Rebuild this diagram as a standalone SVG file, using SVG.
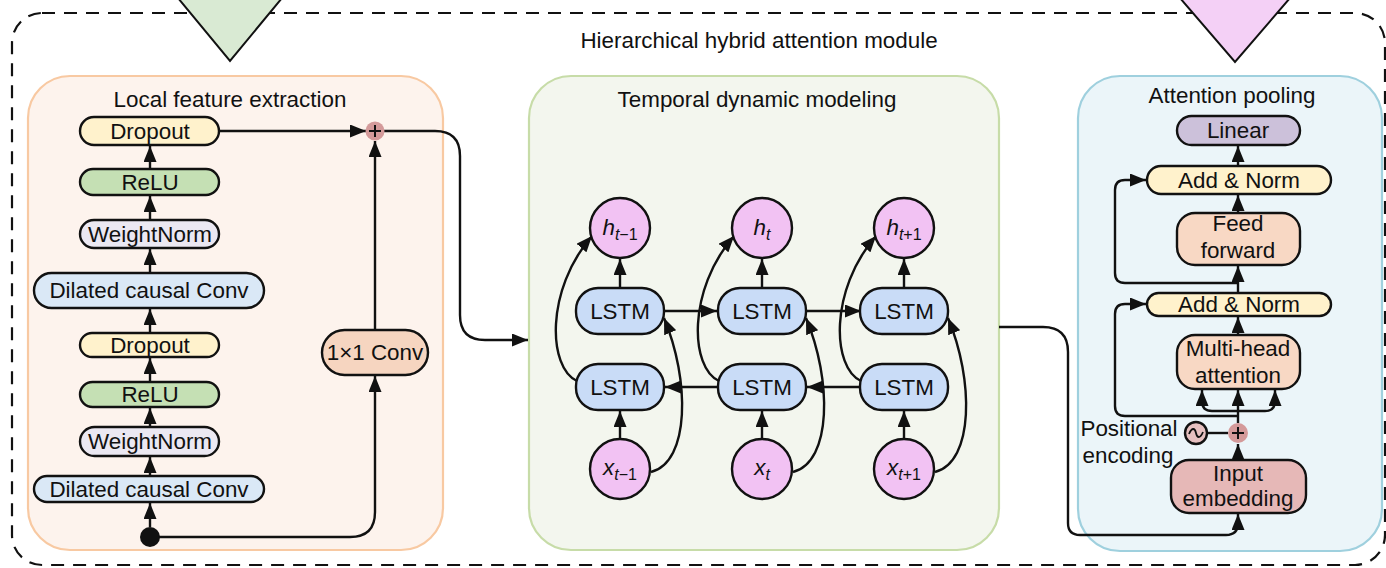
<svg xmlns="http://www.w3.org/2000/svg" width="1386" height="568" viewBox="0 0 1386 568">
<defs>
<style>
text{font-family:"Liberation Sans",Arial,sans-serif;font-size:22.4px;fill:#111;text-anchor:middle}
.nd{stroke:#111;stroke-width:2.4}
.cn{fill:none;stroke:#111;stroke-width:2.4}
.ar{marker-end:url(#ah)}
.sub{font-size:16px}
.it{font-style:italic}
</style>
<marker id="ah" markerUnits="userSpaceOnUse" markerWidth="16" markerHeight="13" refX="16" refY="6.5" orient="auto"><path d="M0,0 L16,6.5 L0,13 z" fill="#111"/></marker>
</defs>
<rect width="1386" height="568" fill="#fff"/>
<rect x="12" y="13" width="1373" height="552" rx="30" fill="none" stroke="#111" stroke-width="2.2" stroke-dasharray="13 9"/>
<text x="759" y="48">Hierarchical hybrid attention module</text>
<polygon points="178,-2 282,-2 230,61" fill="#d9ead3" stroke="#111" stroke-width="2"/>
<polygon points="1180,-2 1290,-2 1235,62" fill="#f4d0f6" stroke="#111" stroke-width="2"/>

<g id="panel-local">
<rect x="28" y="76" width="415" height="474" rx="42" fill="#fdf3ed" stroke="#f8c9a2" stroke-width="2.2"/>
<text x="230" y="107">Local feature extraction</text>
</g>
<g id="panel-temporal">
<rect x="529" y="76" width="470" height="474" rx="42" fill="#f3f6ee" stroke="#c7dca8" stroke-width="2.2"/>
<text x="757" y="107">Temporal dynamic modeling</text>
</g>
<g id="panel-attn">
<rect x="1078" y="76" width="304" height="475" rx="42" fill="#ebf5f9" stroke="#9fd0de" stroke-width="2.2"/>
<text x="1232" y="103">Attention pooling</text>
</g>

<g id="connectors">
<path class="cn ar" d="M150,527 L150,503"/>
<path class="cn ar" d="M150,476 L150,457"/>
<path class="cn ar" d="M150,427 L150,408"/>
<path class="cn ar" d="M150,382 L150,358"/>
<path class="cn ar" d="M150,333 L150,309"/>
<path class="cn ar" d="M150,273 L150,249"/>
<path class="cn ar" d="M150,220 L150,196"/>
<path class="cn ar" d="M150,169 L150,146"/>
<path class="cn ar" d="M150,537 L350,537 Q375,537 375,512 L375,376"/>
<path class="cn ar" d="M375,330 L375,141"/>
<path class="cn ar" d="M220,131 L366,131"/>
<path class="cn ar" d="M384,131 L435,131 Q460,131 460,156 L460,315 Q460,340 485,340 L528,340"/>

<path class="cn ar" d="M665,311 L717,311"/>
<path class="cn ar" d="M807,311 L861,311"/>
<path class="cn ar" d="M861,387 L807,387"/>
<path class="cn ar" d="M718,387 L665,387"/>
<path class="cn ar" d="M620,288 L620,259"/>
<path class="cn ar" d="M762,288 L762,259"/>
<path class="cn ar" d="M904,288 L904,259"/>
<path class="cn ar" d="M620,439 L620,411"/>
<path class="cn ar" d="M762,439 L762,411"/>
<path class="cn ar" d="M904,439 L904,411"/>
<path class="cn ar" d="M577,381 C548,368 545,290 592,236"/>
<path class="cn ar" d="M719,381 C690,368 687,290 734,236"/>
<path class="cn ar" d="M861,381 C832,368 829,290 876,236"/>
<path class="cn ar" d="M651,472 C690,462 690,380 664,318"/>
<path class="cn ar" d="M793,472 C832,462 832,380 806,318"/>
<path class="cn ar" d="M935,472 C974,462 974,380 948,318"/>

<path class="cn ar" d="M999,327 L1043,327 Q1068,327 1068,352 L1068,523 Q1068,535 1080,535 L1226,535 Q1238,535 1238,523 L1238,514"/>
<path class="cn ar" d="M1238,460 L1238,444"/>
<path class="cn" d="M1207,433 L1228,433"/>
<path class="cn ar" d="M1238,423 L1238,390"/>
<path class="cn ar" d="M1238,411 L1212,411 Q1202,411 1202,401 L1202,390"/>
<path class="cn ar" d="M1238,411 L1265,411 Q1275,411 1275,401 L1275,390"/>
<path class="cn ar" d="M1238,416 L1125,416 Q1115,416 1115,406 L1115,314 Q1115,304 1125,304 L1146,304"/>
<path class="cn ar" d="M1238,335 L1238,317"/>
<path class="cn ar" d="M1238,293 L1238,266"/>
<path class="cn ar" d="M1238,283 L1125,283 Q1115,283 1115,273 L1115,190 Q1115,180 1125,180 L1146,180"/>
<path class="cn ar" d="M1238,213 L1238,195"/>
<path class="cn ar" d="M1238,166 L1238,146"/>
</g>

<g id="n-dropout1"><rect class="nd" x="80" y="117" width="139" height="28" rx="14" fill="#fff2cc"/><text x="150" y="139">Dropout</text></g>
<g id="n-relu1"><rect class="nd" x="80" y="169" width="139" height="26" rx="13" fill="#c5e0b4"/><text x="150" y="190">ReLU</text></g>
<g id="n-wn1"><rect class="nd" x="80" y="220" width="139" height="28" rx="14" fill="#ebe8f2"/><text x="150" y="242">WeightNorm</text></g>
<g id="n-dcc1"><rect class="nd" x="34" y="273" width="230" height="35" rx="17.5" fill="#dae8f6"/><text x="149" y="298">Dilated causal Conv</text></g>
<g id="n-dropout2"><rect class="nd" x="80" y="333" width="139" height="24" rx="12" fill="#fff2cc"/><text x="150" y="353">Dropout</text></g>
<g id="n-relu2"><rect class="nd" x="80" y="382" width="139" height="25" rx="12.5" fill="#c5e0b4"/><text x="150" y="402">ReLU</text></g>
<g id="n-wn2"><rect class="nd" x="80" y="427" width="139" height="29" rx="14.5" fill="#ebe8f2"/><text x="150" y="449">WeightNorm</text></g>
<g id="n-dcc2"><rect class="nd" x="34" y="476" width="230" height="26" rx="13" fill="#dae8f6"/><text x="149" y="497">Dilated causal Conv</text></g>
<g id="n-dot"><circle cx="150" cy="537" r="10" fill="#111"/></g>
<g id="n-conv11"><rect class="nd" x="322" y="330" width="106" height="45" rx="22.5" fill="#f6d5c0"/><text x="375" y="360">1×1 Conv</text></g>
<g id="n-plus1"><circle cx="375" cy="131" r="9.5" fill="#d49a9a"/><path d="M369,131 H381 M375,125 V137" stroke="#111" stroke-width="2"/></g>

<g id="n-h1"><circle class="nd" cx="620" cy="228" r="30" fill="#f2c2f3"/><text x="620" y="235"><tspan class="it">h</tspan><tspan class="sub" dy="5"><tspan class="it">t</tspan>−1</tspan></text></g>
<g id="n-h2"><circle class="nd" cx="762" cy="228" r="30" fill="#f2c2f3"/><text x="762" y="235"><tspan class="it">h</tspan><tspan class="sub it" dy="5">t</tspan></text></g>
<g id="n-h3"><circle class="nd" cx="904" cy="228" r="30" fill="#f2c2f3"/><text x="904" y="235"><tspan class="it">h</tspan><tspan class="sub" dy="5"><tspan class="it">t</tspan>+1</tspan></text></g>
<g id="n-lf1"><rect class="nd" x="576" y="288" width="88" height="46" rx="22" fill="#c9dcf7"/><text x="620" y="319">LSTM</text></g>
<g id="n-lf2"><rect class="nd" x="718" y="288" width="88" height="46" rx="22" fill="#c9dcf7"/><text x="762" y="319">LSTM</text></g>
<g id="n-lf3"><rect class="nd" x="860" y="288" width="88" height="46" rx="22" fill="#c9dcf7"/><text x="904" y="319">LSTM</text></g>
<g id="n-lb1"><rect class="nd" x="576" y="364" width="88" height="46" rx="22" fill="#c9dcf7"/><text x="620" y="395">LSTM</text></g>
<g id="n-lb2"><rect class="nd" x="718" y="364" width="88" height="46" rx="22" fill="#c9dcf7"/><text x="762" y="395">LSTM</text></g>
<g id="n-lb3"><rect class="nd" x="860" y="364" width="88" height="46" rx="22" fill="#c9dcf7"/><text x="904" y="395">LSTM</text></g>
<g id="n-x1"><circle class="nd" cx="620" cy="469" r="30" fill="#f2c2f3"/><text x="620" y="475"><tspan class="it">x</tspan><tspan class="sub" dy="5"><tspan class="it">t</tspan>−1</tspan></text></g>
<g id="n-x2"><circle class="nd" cx="762" cy="469" r="30" fill="#f2c2f3"/><text x="762" y="475"><tspan class="it">x</tspan><tspan class="sub it" dy="5">t</tspan></text></g>
<g id="n-x3"><circle class="nd" cx="904" cy="469" r="30" fill="#f2c2f3"/><text x="904" y="475"><tspan class="it">x</tspan><tspan class="sub" dy="5"><tspan class="it">t</tspan>+1</tspan></text></g>

<g id="n-linear"><rect class="nd" x="1177" y="116" width="123" height="29" rx="14.5" fill="#ccc1da"/><text x="1238" y="138">Linear</text></g>
<g id="n-addnorm1"><rect class="nd" x="1147" y="166" width="184" height="28" rx="14" fill="#fff2cc"/><text x="1239" y="188">Add &amp; Norm</text></g>
<g id="n-ff"><rect class="nd" x="1177" y="213" width="123" height="52" rx="18" fill="#f8d8c4"/><text x="1238" y="231">Feed</text><text x="1238" y="258">forward</text></g>
<g id="n-addnorm2"><rect class="nd" x="1147" y="293" width="184" height="23" rx="11.5" fill="#fff2cc"/><text x="1239" y="312">Add &amp; Norm</text></g>
<g id="n-mha"><rect class="nd" x="1177" y="335" width="123" height="54" rx="18" fill="#f8d8c4"/><text x="1238" y="356">Multi-head</text><text x="1238" y="383">attention</text></g>
<g id="n-plus2"><circle cx="1238" cy="433" r="10" fill="#d49a9a"/><path d="M1232,433 H1244 M1238,427 V439" stroke="#111" stroke-width="2"/></g>
<g id="n-pe"><circle class="nd" cx="1196" cy="433" r="11" fill="#e6c0c0"/><path d="M1189,434 C1192,427 1195,428 1196,433 C1197,438 1200,439 1203,432" fill="none" stroke="#111" stroke-width="1.8"/><text x="1129" y="436">Positional</text><text x="1128" y="463">encoding</text></g>
<g id="n-embed"><rect class="nd" x="1171" y="460" width="135" height="53" rx="18" fill="#e6b8b7"/><text x="1238" y="481">Input</text><text x="1238" y="506">embedding</text></g>
</svg>
